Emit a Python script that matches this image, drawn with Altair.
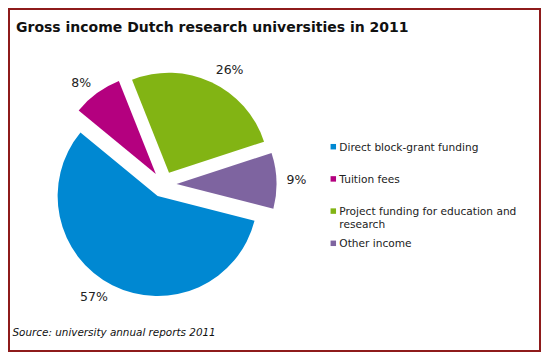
import altair as alt
import pandas as pd

# ---- data ----
categories = ["Direct block-grant funding", "Tuition fees",
              "Project funding for education and research", "Other income"]
legend_labels = ["Direct block-grant funding", "Tuition fees",
                 "Project funding for education and\nresearch", "Other income"]
shares = [57, 8, 26, 9]
colors = ["#0088D2", "#B4007F", "#82B414", "#7E64A0"]
title_text = "Gross income Dutch research universities in 2011"
source_text = "Source: university annual reports 2011"

# ---- layout ----
W, H = 533, 344
CX, CY = 155.5, 176.5     # pie centre (px)
R = 100                   # pie radius
EXPLODE = 13              # explode distance
START = 104.3 * 3.141592653589793 / 180
LABEL_R = 123
LEG_X, LEG_Y0, LEG_STEP = 325.3, 138.7, 32.2
FONT = "DejaVu Sans"

df = pd.DataFrame({"cat": categories, "pct": shares,
                   "order": list(range(len(shares))), "legend": legend_labels})

base = alt.Chart(df).transform_window(
    cum="sum(pct)", sort=[alt.SortField("order")], frame=[None, 0]
).transform_calculate(
    t0=f"{START} + (datum.cum - datum.pct) / 100 * 2 * PI",
    t1=f"{START} + datum.cum / 100 * 2 * PI",
).transform_calculate(
    mid="(datum.t0 + datum.t1) / 2",
).transform_calculate(
    cx=f"{CX} + {EXPLODE} * sin(datum.mid)",
    cy=f"{CY} - {EXPLODE} * cos(datum.mid)",
    lx=f"{CX} + {LABEL_R} * sin(datum.mid)",
    ly=f"{CY} - {LABEL_R + 3} * cos(datum.mid)",
    lab="datum.pct + '%'",
    side="sin(datum.mid) >= 0 ? 'r' : 'l'",
)

color = alt.Color("cat:N", scale=alt.Scale(domain=categories, range=colors), legend=None)

arcs = base.mark_arc(outerRadius=R, innerRadius=0).encode(
    theta=alt.Theta("t0:Q", scale=None),
    theta2="t1:Q",
    x=alt.X("cx:Q", scale=None, axis=None),
    y=alt.Y("cy:Q", scale=None, axis=None),
    color=color,
)

lab_enc = dict(x=alt.X("lx:Q", scale=None, axis=None),
               y=alt.Y("ly:Q", scale=None, axis=None),
               text="lab:N")
labels_r = base.transform_filter("datum.side == 'r'").mark_text(
    align="left", baseline="middle", font=FONT, fontSize=12.5, color="#222222"
).encode(**lab_enc)
labels_l = base.transform_filter("datum.side == 'l'").mark_text(
    align="right", baseline="middle", font=FONT, fontSize=12.5, color="#222222"
).encode(**lab_enc)

leg = alt.Chart(df).transform_calculate(
    legy=f"{LEG_Y0} + {LEG_STEP} * datum.order"
)
leg_sq = leg.mark_square(size=30, opacity=1, filled=True).encode(
    x=alt.value(LEG_X),
    y=alt.Y("legy:Q", scale=None, axis=None),
    color=color,
)
leg_txt = leg.mark_text(
    align="left", baseline="alphabetic", dy=4, lineBreak="\n", lineHeight=13,
    font=FONT, fontSize=10.6, color="#222222"
).encode(
    x=alt.value(LEG_X + 6),
    y=alt.Y("legy:Q", scale=None, axis=None),
    text="legend:N",
)

tdf = pd.DataFrame({"t": [title_text]})
title = alt.Chart(tdf).mark_text(
    align="left", baseline="alphabetic", font=FONT, fontSize=14,
    fontWeight="bold", color="#111111"
).encode(x=alt.value(8), y=alt.value(23.7), text="t:N")

sdf = pd.DataFrame({"s": [source_text]})
source = alt.Chart(sdf).mark_text(
    align="left", baseline="alphabetic", font=FONT, fontSize=10.4,
    fontStyle="italic", color="#111111"
).encode(x=alt.value(4.5), y=alt.value(328), text="s:N")

bdf = pd.DataFrame({"b": [0]})
border = alt.Chart(bdf).mark_rect(filled=False, stroke="#8E1B1B", strokeWidth=2).encode(
    x=alt.value(1), x2=alt.value(W - 1), y=alt.value(1), y2=alt.value(H - 1)
)

chart = alt.layer(
    border, arcs, labels_r, labels_l, leg_sq, leg_txt, title, source
).properties(
    width=W, height=H, padding=0, autosize="none"
).configure_view(stroke=None)

chart.save("out.html", embed_options={"renderer": "svg", "actions": False})
